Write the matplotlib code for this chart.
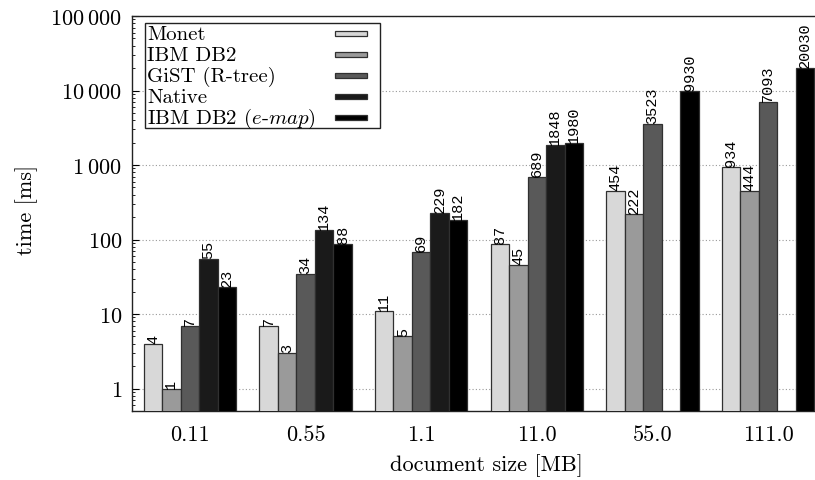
import matplotlib
matplotlib.use("Agg")
import matplotlib.pyplot as plt
from matplotlib.patches import Rectangle
import numpy as np
from matplotlib.ticker import FixedLocator, LogLocator, NullFormatter

plt.rcParams['font.family'] = ['cmr10', 'DejaVu Serif']
plt.rcParams['mathtext.fontset'] = 'cm'
plt.rcParams['axes.formatter.use_mathtext'] = True

categories = ["0.11", "0.55", "1.1", "11.0", "55.0", "111.0"]
series_names = ["Monet", "IBM DB2", "GiST (R-tree)", "Native", r"IBM DB2 ($e$-$map$)"]
monet = [4, 7, 11, 87, 454, 934]
ibm_db2 = [1, 3, 5, 45, 222, 444]
gist = [7, 34, 69, 689, 3523, 7093]
native = [55, 134, 229, 1848, None, None]
emap = [23, 88, 182, 1980, 9930, 20030]
series = [monet, ibm_db2, gist, native, emap]
colors = ["#d8d8d8", "#9a9a9a", "#595959", "#1a1a1a", "#000000"]

ytick_vals = [1, 10, 100, 1000, 10000, 100000]
ytick_labels = ["$1$", "$10$", "$100$", r"$1\:000$", r"$10\:000$", r"$100\:000$"]

W, H = 815, 481
fig = plt.figure(figsize=(W / 100, H / 100), dpi=100)
ax = fig.add_axes([132 / W, 1 - 412 / H, 694 / W, 395 / H])

def fx(px):
    return px / W

def fy(py):
    return 1 - py / H

x = np.arange(len(categories))
w = 0.16
for i, (vals, col, name) in enumerate(zip(series, colors, series_names)):
    xs = [xi + (i - 2) * w for xi, v in zip(x, vals) if v is not None]
    vs = [v for v in vals if v is not None]
    ax.bar(xs, vs, width=w, color=col, edgecolor="#303030", linewidth=0.9,
           label=name, zorder=3)
    for xx, v in zip(xs, vs):
        ax.text(xx, v * 1.03, str(v), rotation=90, ha="center", va="bottom",
                fontsize=11, family="Liberation Mono", zorder=4)

ax.set_yscale("log")
ax.set_ylim(0.5, 100000)
ax.set_xlim(-0.5, 5.5)
ax.yaxis.set_major_locator(FixedLocator(ytick_vals))
ax.set_yticklabels(ytick_labels)
ax.yaxis.set_minor_locator(LogLocator(base=10, subs=np.arange(2, 10)))
ax.yaxis.set_minor_formatter(NullFormatter())
ax.set_xticks(x)
ax.set_xticklabels(categories)
ax.tick_params(axis="x", length=0, pad=10, labelsize=16)
ax.tick_params(axis="y", which="major", direction="in", length=5, width=0.8, pad=7, labelsize=16)
ax.tick_params(axis="y", which="minor", direction="in", length=2.5, width=0.6)
ax.grid(axis="y", which="major", linestyle=(0, (1, 2)), color="#999999", linewidth=0.8, zorder=0)

for s in ax.spines.values():
    s.set_linewidth(1.0)
    s.set_color("#222222")

fig.text(fx(27), fy(210), "time [ms]", rotation=90, ha="center", va="center", fontsize=16)
fig.text(fx(486), fy(466), "document size [MB]", ha="center", va="center", fontsize=16)

# manual legend (gnuplot style: text left, sample right)
frame = Rectangle((fx(145), fy(129)), fx(380) - fx(145), fy(24) - fy(129),
                  transform=fig.transFigure, facecolor="white", edgecolor="#222222",
                  linewidth=1.0, zorder=10)
fig.add_artist(frame)
row0, step = 34.8, 21.0
for i, (name, col) in enumerate(zip(series_names, colors)):
    yc = row0 + i * step
    fig.text(fx(147), fy(yc), name, ha="left", va="center", fontsize=15, zorder=11)
    r = Rectangle((fx(335), fy(yc + 2.6)), fx(367) - fx(335), fy(yc - 2.6) - fy(yc + 2.6),
                  transform=fig.transFigure, facecolor=col, edgecolor="#303030",
                  linewidth=0.9, zorder=11)
    fig.add_artist(r)

fig.savefig("out.png", dpi=100)
